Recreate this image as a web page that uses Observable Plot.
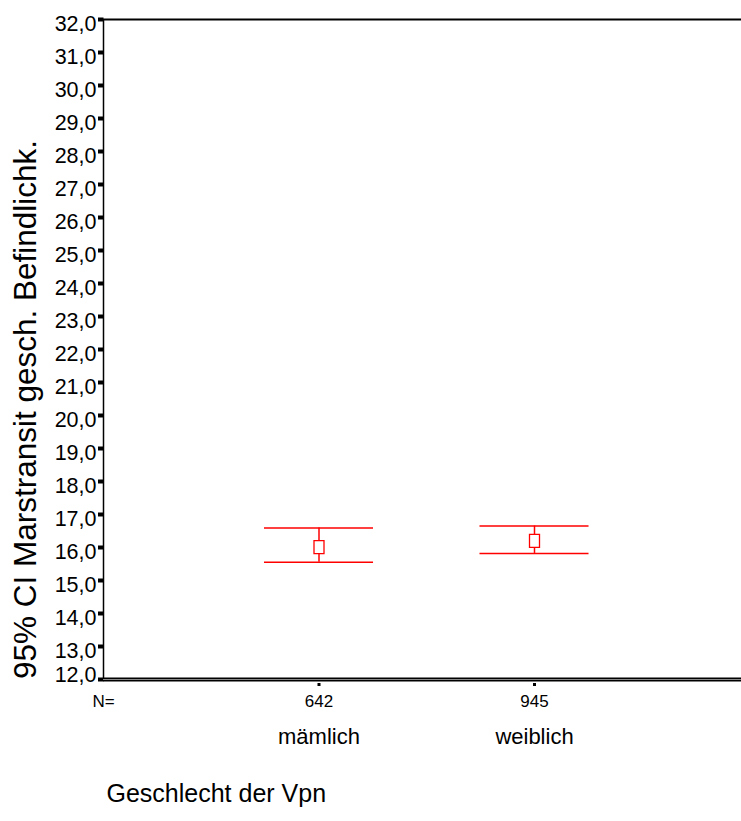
<!DOCTYPE html>
<html>
<head>
<meta charset="utf-8">
<script src="https://cdn.jsdelivr.net/npm/d3@7"></script>
<script src="https://cdn.jsdelivr.net/npm/@observablehq/plot@0.6"></script>
<style>
  body { margin: 0; background: #fff; }
  svg { font-family: "Liberation Sans", Arial, sans-serif; }
  g[aria-label="ylabels"] text { letter-spacing: -1.5px; }
  g[aria-label="counts"] text { letter-spacing: -1.6px; }
  g[aria-label="catlabels"] text { letter-spacing: -1.2px; }
  g[aria-label="xtitle"] text { letter-spacing: -1.1px; }
</style>
</head>
<body>
<div id="chart"></div>
<script>
// ---- data ----
const categories = ["mämlich", "weiblich"];
const counts = [642, 945];
const means = [16.01, 16.20];
const lower = [15.55, 15.82];
const upper = [16.59, 16.65];
const yTicks = [12, 13, 14, 15, 16, 17, 18, 19, 20, 21, 22, 23, 24, 25, 26, 27, 28, 29, 30, 31, 32];
const yTitle = "95% CI Marstransit gesch. Befindlichk.";
const xTitle = "Geschlecht der Vpn";
const nLabel = "N=";

const rows = categories.map((c, i) => ({
  cat: c, pos: i + 1, n: counts[i], mean: means[i], lo: lower[i], hi: upper[i]
}));

const capHalf = 0.253;
const fmt = d => d3.format(".1f")(d).replace(".", ",");
const red = "#ff0000";

const boxSymbol = {
  draw(context) {
    context.moveTo(-5, -6.5);
    context.lineTo(5, -6.5);
    context.lineTo(5, 6.5);
    context.lineTo(-5, 6.5);
    context.closePath();
  }
};
const tickSymbol = {
  draw(context) {
    context.moveTo(-5.5, -2);
    context.lineTo(0, -2);
    context.lineTo(0, 2);
    context.lineTo(-5.5, 2);
    context.closePath();
  }
};

const chart = Plot.plot({
  width: 741,
  height: 821,
  marginTop: 19,
  marginBottom: 142,
  marginLeft: 103,
  marginRight: 0,
  style: { background: "#fff", overflow: "visible" },
  x: { domain: [0, 638 / 215.5], axis: null },
  y: { domain: [12, 32], axis: null },
  marks: [
    Plot.ruleY([32], { stroke: "#000", strokeWidth: 2 }),
    Plot.ruleX([0], { y1: 12, y2: 32, stroke: "#000", strokeWidth: 1.5 }),
    Plot.dot(yTicks, { y: d => d, frameAnchor: "left", symbol: tickSymbol, r: 3, fill: "#000", stroke: null }),
    Plot.text(yTicks.filter(d => d !== 12), {
      y: d => d, text: fmt, frameAnchor: "left", textAnchor: "end",
      dx: -7, dy: 5, fontSize: 21.5, fill: "#000", ariaLabel: "ylabels"
    }),
    Plot.text(yTicks.filter(d => d === 12), {
      y: d => d, text: fmt, frameAnchor: "left", textAnchor: "end",
      dx: -7, dy: -4, fontSize: 21.5, fill: "#000", ariaLabel: "ylabels"
    }),
    Plot.ruleY([12], { stroke: "#000", strokeWidth: 4 }),
    Plot.ruleY([12], { stroke: "#888", strokeWidth: 1 }),
    Plot.dot(rows, { x: "pos", y: 12, dy: 5, symbol: "square", r: 1.7, fill: "#000", stroke: null }),
    Plot.text([nLabel], { x: 0, y: 12, text: d => d, dy: 22, fontSize: 17, fill: "#000" }),
    Plot.text(rows, { x: "pos", y: 12, text: "n", dy: 22, fontSize: 17, fill: "#000", ariaLabel: "counts" }),
    Plot.text(rows, { x: "pos", y: 12, text: "cat", dy: 57, fontSize: 22, fill: "#000", ariaLabel: "catlabels" }),
    Plot.text([xTitle], { frameAnchor: "bottom-left", text: d => d, textAnchor: "start", dx: 3, dy: 122, fontSize: 25, fill: "#000", ariaLabel: "xtitle" }),
    Plot.text([yTitle], { frameAnchor: "left", text: d => d, textAnchor: "middle", rotate: -90, dx: -78, dy: 60, fontSize: 31.5, fill: "#000" }),
    Plot.ruleX(rows, { x: "pos", y1: "lo", y2: "hi", stroke: red, strokeWidth: 1.5 }),
    Plot.ruleY(rows, { y: "hi", x1: d => d.pos - capHalf, x2: d => d.pos + capHalf, stroke: red, strokeWidth: 1.5 }),
    Plot.ruleY(rows, { y: "lo", x1: d => d.pos - capHalf, x2: d => d.pos + capHalf, stroke: red, strokeWidth: 1.5 }),
    Plot.dot(rows, { x: "pos", y: "mean", symbol: boxSymbol, r: 5, fill: "#fff", stroke: red, strokeWidth: 1.3 })
  ]
});
document.getElementById("chart").appendChild(chart);
</script>
</body>
</html>
